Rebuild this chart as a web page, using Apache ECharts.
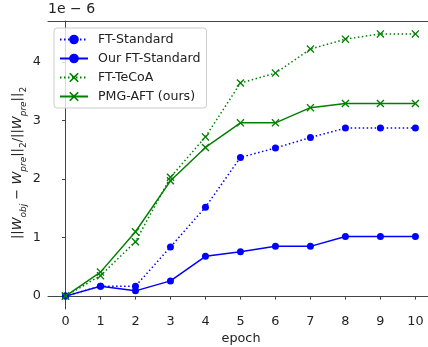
<!DOCTYPE html>
<html>
<head>
<meta charset="utf-8">
<script src="https://cdn.jsdelivr.net/npm/echarts@6/dist/echarts.min.js"></script>
<style>html,body{margin:0;padding:0;background:#fff;}#c{width:428px;height:347px;}</style>
</head>
<body>
<div id="c"></div>
<script>
const epochs = [0, 1, 2, 3, 4, 5, 6, 7, 8, 9, 10];
const ftStandard = [0, 0.17, 0.17, 0.84, 1.52, 2.37, 2.53, 2.71, 2.87, 2.87, 2.87];
const ourFtStandard = [0, 0.17, 0.09, 0.26, 0.68, 0.76, 0.85, 0.85, 1.02, 1.02, 1.02];
const ftTecoa = [0, 0.35, 0.93, 2.03, 2.72, 3.64, 3.81, 4.22, 4.39, 4.48, 4.48];
const pmgAft = [0, 0.41, 1.10, 1.97, 2.54, 2.96, 2.96, 3.22, 3.29, 3.29, 3.29];
const yTicks = [0, 1, 2, 3, 4];
const xTicks = epochs;
const seriesNames = ['FT-Standard', 'Our FT-Standard', 'FT-TeCoA', 'PMG-AFT (ours)'];

const FONT = 'DejaVu Sans';
const BLUE = '#0000ff';
const GREEN = '#008000';
const XSYM = 'path://M0,1.2 L1.2,0 L5,3.8 L8.8,0 L10,1.2 L6.2,5 L10,8.8 L8.8,10 L5,6.2 L1.2,10 L0,8.8 L3.8,5 Z';
const pairs = arr => arr.map((v, i) => [epochs[i], v]);

function mk(name, data, color, dotted, symbol, size) {
  return {
    name: name, type: 'line', data: pairs(data),
    symbol: symbol, symbolSize: size,
    lineStyle: { color: color, width: 1.5, type: dotted ? [1.5, 2.5] : 'solid', cap: 'butt' },
    itemStyle: { color: color, borderWidth: 0 },
    emphasis: { disabled: true },
    animation: false
  };
}

const chart = echarts.init(document.getElementById('c'), null, { renderer: 'canvas' });
const axisLineStyle = { color: '#444', width: 1 };
chart.setOption({
  animation: false,
  backgroundColor: '#fff',
  grid: { left: 48, right: 0, top: 21, bottom: 38 },
  legend: {
    orient: 'vertical', left: 54, top: 28,
    data: seriesNames,
    itemWidth: 28, itemHeight: 12, itemGap: 6,
    padding: [5, 6, 5, 5],
    backgroundColor: 'rgba(255,255,255,0.8)',
    borderColor: '#cccccc', borderWidth: 1, borderRadius: 3,
    textStyle: { fontFamily: FONT, fontSize: 12.6, lineHeight: 12, color: '#222', padding: [0, 0, 0, 5] }
  },
  xAxis: [{
    type: 'value', min: -0.5, max: 10.36,
    axisLine: { show: true, lineStyle: axisLineStyle },
    axisTick: { show: true, length: 3.5, inside: false, customValues: xTicks, lineStyle: axisLineStyle },
    axisLabel: { customValues: xTicks, fontFamily: FONT, fontSize: 12.8, color: '#222', margin: 6 },
    splitLine: { show: false }
  }, {
    type: 'value', position: 'top', min: -0.5, max: 10.36,
    axisLine: { show: true, lineStyle: axisLineStyle },
    axisTick: { show: false }, axisLabel: { show: false }, splitLine: { show: false }
  }],
  yAxis: {
    type: 'value', min: -0.22, max: 4.70,
    axisLine: { show: true, lineStyle: axisLineStyle },
    axisTick: { show: true, length: 3.5, customValues: yTicks, lineStyle: axisLineStyle },
    axisLabel: { customValues: yTicks, fontFamily: FONT, fontSize: 12.8, color: '#222', margin: 7 },
    splitLine: { show: false }
  },
  graphic: [
    { type: 'text', left: 48, top: 2, style: { text: '1e \u2212 6', font: '14px "DejaVu Sans"', fill: '#222' } },
    { type: 'text', x: 241, y: 339, style: { text: 'epoch', font: '12.8px "DejaVu Sans"', fill: '#222', align: 'center', verticalAlign: 'middle' } },
    { type: 'text', x: 18, y: 163, rotation: Math.PI / 2,
      style: {
        align: 'center', verticalAlign: 'middle', fill: '#222',
        text: '{n|||}{i|W}{s|obj}{n| \u2212 }{i|W}{s|pre}{n|||}{t|2}{n|/||}{i|W}{s|pre}{n|||}{t|2}',
        rich: {
          n: { fontFamily: FONT, fontSize: 13, lineHeight: 20, verticalAlign: 'middle', fill: '#222' },
          i: { fontFamily: FONT, fontSize: 13, fontStyle: 'italic', lineHeight: 20, verticalAlign: 'middle', fill: '#222' },
          s: { fontFamily: FONT, fontSize: 9, fontStyle: 'italic', lineHeight: 11, verticalAlign: 'bottom', fill: '#222' },
          t: { fontFamily: FONT, fontSize: 9, lineHeight: 11, verticalAlign: 'bottom', fill: '#222' }
        }
      }
    }
  ],
  series: [
    mk(seriesNames[0], ftStandard, BLUE, true, 'circle', 7),
    mk(seriesNames[1], ourFtStandard, BLUE, false, 'circle', 7),
    mk(seriesNames[2], ftTecoa, GREEN, true, XSYM, 8),
    mk(seriesNames[3], pmgAft, GREEN, false, XSYM, 8)
  ]
});
</script>
</body>
</html>
